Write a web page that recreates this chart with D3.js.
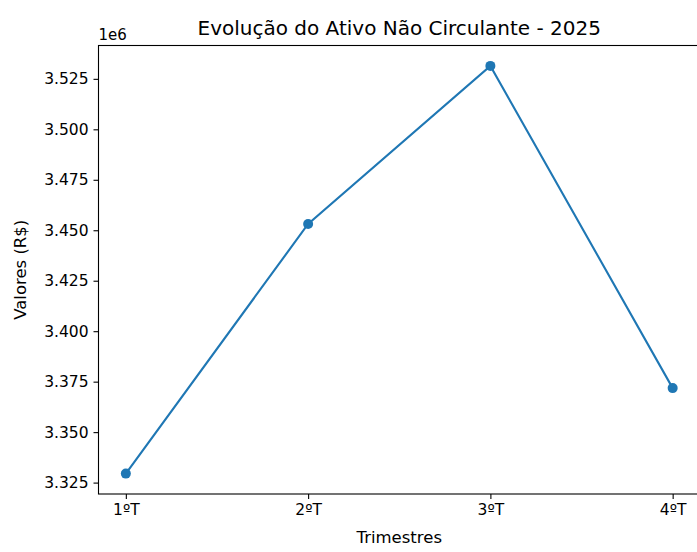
<!DOCTYPE html>
<html lang="pt">
<head>
<meta charset="UTF-8">
<title>Evolução do Ativo Não Circulante - 2025</title>
<script src="https://cdn.jsdelivr.net/npm/d3@7/dist/d3.min.js"></script>
<style>
  body { margin: 0; background: #fff; }
  svg { display: block; font-family: "DejaVu Sans", sans-serif; }
</style>
</head>
<body>
<svg id="chart" width="697" height="552"></svg>
<script>
// dados
var trimestres = ["1ºT", "2ºT", "3ºT", "4ºT"];
var valores = [3329450, 3453110, 3531420, 3371800];
var yTicks = [3325000, 3350000, 3375000, 3400000, 3425000, 3450000, 3475000, 3500000, 3525000];

var svg = d3.select("#chart");
var mLeft = 98.5, mRight = 700, mTop = 45.5, mBottom = 494;

// margens de 5% como no matplotlib
var n = trimestres.length - 1;
var xScale = d3.scaleLinear().domain([-0.05 * n, n * 1.05]).range([mLeft, mRight]);
var ymin = d3.min(valores), ymax = d3.max(valores), pad = (ymax - ymin) * 0.05;
var yScale = d3.scaleLinear().domain([ymin - pad, ymax + pad]).range([mBottom, mTop]);

// eixo x
var xAxis = d3.axisBottom(xScale)
    .tickValues(d3.range(trimestres.length))
    .tickFormat(function(i) { return trimestres[i]; })
    .tickSize(5).tickPadding(5);
var gx = svg.append("g").attr("transform", "translate(0," + mBottom + ")").call(xAxis);

// eixo y
var yAxis = d3.axisLeft(yScale)
    .tickValues(yTicks)
    .tickFormat(function(d) { return (d / 1e6).toFixed(3); })
    .tickSize(5).tickPadding(5);
var gy = svg.append("g").attr("transform", "translate(" + mLeft + ",0)").call(yAxis);

[gx, gy].forEach(function(g) {
  g.select(".domain").remove();
  g.selectAll("line").attr("stroke", "#000").attr("stroke-width", 1.1);
  g.selectAll("text").attr("fill", "#000").style("font-size", "15.5px").style("font-family", "DejaVu Sans");
});

// moldura
svg.append("rect")
  .attr("x", mLeft).attr("y", mTop)
  .attr("width", mRight - mLeft).attr("height", mBottom - mTop)
  .attr("fill", "none").attr("stroke", "#000").attr("stroke-width", 1.1);

// linha
var line = d3.line()
  .x(function(d, i) { return xScale(i); })
  .y(function(d) { return yScale(d); });

svg.append("path")
  .datum(valores)
  .attr("d", line)
  .attr("fill", "none")
  .attr("stroke", "#1f77b4")
  .attr("stroke-width", 2.1);

svg.selectAll("circle.pt")
  .data(valores)
  .enter().append("circle")
  .attr("class", "pt")
  .attr("cx", function(d, i) { return xScale(i); })
  .attr("cy", function(d) { return yScale(d); })
  .attr("r", 5)
  .attr("fill", "#1f77b4");

// textos
svg.append("text")
  .attr("x", (mLeft + mRight) / 2).attr("y", 35)
  .attr("text-anchor", "middle")
  .style("font-size", "20px")
  .text("Evolução do Ativo Não Circulante - 2025");

svg.append("text")
  .attr("x", mLeft).attr("y", 40)
  .style("font-size", "15px")
  .text("1e6");

svg.append("text")
  .attr("x", (mLeft + mRight) / 2).attr("y", 543)
  .attr("text-anchor", "middle")
  .style("font-size", "16.5px")
  .text("Trimestres");

svg.append("text")
  .attr("transform", "translate(26," + (mTop + mBottom) / 2 + ") rotate(-90)")
  .attr("text-anchor", "middle")
  .style("font-size", "16.5px")
  .text("Valores (R$)");
</script>
</body>
</html>
